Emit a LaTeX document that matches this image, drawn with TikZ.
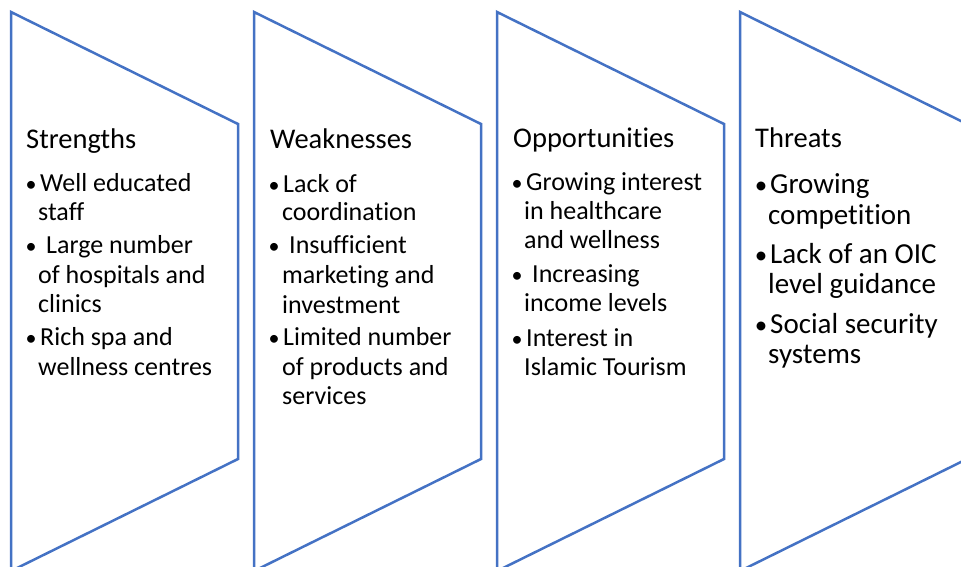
\documentclass[tikz,border=0pt]{standalone}
\usepackage{fontspec}
\setmainfont{Carlito}[RawFeature=-liga]
\definecolor{chevblue}{HTML}{4472C4}
\begin{document}
\begin{tikzpicture}[x=1pt,y=-1pt,
  chev/.style={draw=chevblue,line width=2.5pt,line join=miter},
  ttl/.style={anchor=base west,inner sep=0pt,font=\fontsize{28.5}{30}\selectfont},
  ln/.style={anchor=base west,inner sep=0pt,font=\fontsize{26}{30}\selectfont},
  lnb/.style={anchor=base west,inner sep=0pt,font=\fontsize{29}{32}\selectfont},
  bul/.style={anchor=base,inner sep=0pt,font=\fontsize{22}{30}\selectfont},
  bulb/.style={anchor=base,inner sep=0pt,font=\fontsize{25}{32}\selectfont}]
\useasboundingbox (0,0) rectangle (961,566);
\clip (0,0) rectangle (961,566);
% chevron shapes
\foreach \L/\n in {11/s,254/w,497/o,740/t}{
  \draw[chev] (\L,12) -- (\L+227,124) -- (\L+227,459) -- (\L,571) -- cycle;
}
% Strengths
\node[ttl] (sT) at (26,148) {Strengths};
\node[bul] (sb1) at (31,191) {•};
\node[ln] (s1) at (40,191) {Well educated};
\node[ln] (s2) at (38,220) {staff};
\node[bul] (sb2) at (31,253) {•};
\node[ln] (s3) at (46,253) {Large number};
\node[ln] (s4) at (38,283) {of hospitals and};
\node[ln] (s5) at (38,312) {clinics};
\node[bul] (sb3) at (31,345) {•};
\node[ln] (s6) at (40,345) {Rich spa and};
\node[ln] (s7) at (38,375) {wellness centres};
% Weaknesses
\node[ttl] (wT) at (270,148) {Weaknesses};
\node[bul] (wb1) at (274,192) {•};
\node[ln] (w1) at (283,192) {Lack of};
\node[ln] (w2) at (282,220) {coordination};
\node[bul] (wb2) at (274,253) {•};
\node[ln] (w3) at (289,253) {Insufficient};
\node[ln] (w4) at (282,283) {marketing and};
\node[ln] (w5) at (282,313) {investment};
\node[bul] (wb3) at (274,345) {•};
\node[ln] (w6) at (283,345) {Limited number};
\node[ln] (w7) at (282,375) {of products and};
\node[ln] (w8) at (282,404) {services};
% Opportunities
\node[ttl] (oT) at (513,147) {Opportunities};
\node[bul] (ob1) at (517,190) {•};
\node[ln] (o1) at (526,190) {Growing interest};
\node[ln] (o2) at (524,219) {in healthcare};
\node[ln] (o3) at (524,248) {and wellness};
\node[bul] (ob2) at (517,282) {•};
\node[ln] (o4) at (532,282) {Increasing};
\node[ln] (o5) at (524,311) {income levels};
\node[bul] (ob3) at (517,346) {•};
\node[ln] (o6) at (526,346) {Interest in};
\node[ln] (o7) at (524,375) {Islamic Tourism};
% Threats
\node[ttl] (tT) at (755,147) {Threats};
\node[bulb] (tb1) at (761,193) {•};
\node[lnb] (t1) at (770,193) {Growing};
\node[lnb] (t2) at (768,224) {competition};
\node[bulb] (tb2) at (761,263) {•};
\node[lnb] (t3) at (770,263) {Lack of an OIC};
\node[lnb] (t4) at (768,293) {level guidance};
\node[bulb] (tb3) at (761,333) {•};
\node[lnb] (t5) at (770,333) {Social security};
\node[lnb] (t6) at (768,363) {systems};
\end{tikzpicture}
\end{document}
